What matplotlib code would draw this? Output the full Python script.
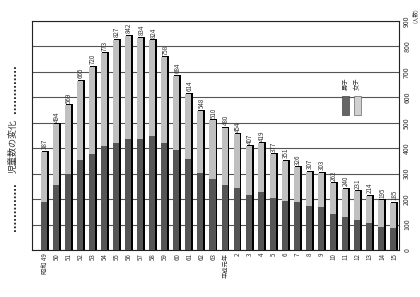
import numpy as np
import matplotlib
matplotlib.use("Agg")
import matplotlib.pyplot as plt
from matplotlib.patches import Rectangle

plt.rcParams['font.family'] = ['Noto Sans CJK JP', 'DejaVu Sans']

categories = ['昭和 49', '50', '51', '52', '53', '54', '55', '56', '57', '58',
              '59', '60', '61', '62', '63', '平成元年', '2', '3', '4', '5',
              '6', '7', '8', '9', '10', '11', '12', '13', '14', '15']
totals = [387, 494, 569, 665, 720, 773, 827, 842, 834, 824,
          758, 684, 614, 548, 510, 480, 454, 407, 419, 377,
          351, 326, 307, 303, 262, 240, 231, 214, 195, 185]
boys = [188, 254, 300, 352, 377, 407, 419, 435, 435, 447,
        421, 392, 356, 303, 279, 254, 244, 217, 226, 205,
        194, 187, 171, 170, 142, 130, 119, 108, 91, 87]
yticks = [0, 100, 200, 300, 400, 500, 600, 700, 800, 900]

totals_a = np.array(totals)
boys_a = np.array(boys)
girls_a = totals_a - boys_a

dark = '#555555'
light = '#c0c0c0'
txt = '#333333'

fig = plt.figure(figsize=(4.2, 2.97), dpi=100)
ax = fig.add_axes([32/420, 1-250/297, 367/420, 229/297])

x = np.arange(len(categories))
# shadow
ax.bar(x - 0.25, totals_a + 4, width=0.58, align='edge', color='black', zorder=2)
ax.bar(x - 0.33, boys_a, width=0.5, align='edge', color=dark, zorder=3)
ax.bar(x - 0.33, girls_a, bottom=boys_a, width=0.5, align='edge', color=light, zorder=3)

for xi, t in zip(x, totals_a):
    ax.text(xi, t + 10, str(t), rotation=90, ha='center', va='bottom',
            fontsize=4.5, color=txt)

ax.set_xlim(-1.08, 29.42)
ax.set_ylim(0, 900)
ax.set_xticks(x)
ax.set_xticklabels(categories, rotation=90, fontsize=4.5, color=txt)
ax.tick_params(axis='x', length=0, pad=2)
ax.yaxis.tick_right()
ax.set_yticks(yticks)
ax.set_yticklabels([str(v) for v in yticks], rotation=90, va='center',
                   fontsize=5, color=txt)
ax.tick_params(axis='y', length=0, pad=3)
ax.grid(axis='y', color='#555555', linewidth=0.8, zorder=1)
ax.set_axisbelow(True)
for s in ax.spines.values():
    s.set_color('#222222')
    s.set_linewidth(0.8)

# legend
ax.add_patch(Rectangle((0.845, 0.59), 0.019, 0.083, transform=ax.transAxes,
                       facecolor='#666666', edgecolor='#444444', lw=0.5, zorder=5))
ax.add_patch(Rectangle((0.877, 0.59), 0.019, 0.083, transform=ax.transAxes,
                       facecolor='#d0d0d0', edgecolor='#666666', lw=0.5, zorder=5))
ax.text(0.8545, 0.70, '男子', transform=ax.transAxes, rotation=90,
        ha='center', va='bottom', fontsize=4.5, color=txt)
ax.text(0.8865, 0.70, '女子', transform=ax.transAxes, rotation=90,
        ha='center', va='bottom', fontsize=4.5, color=txt)

# unit
fig.text(415/420, 1-16/297, '(人数)', rotation=90, ha='center', va='center',
         fontsize=4, color=txt)

# title
fig.text(13/420, 1-146/297, '児童数の変化', rotation=90, ha='center', va='center',
         fontsize=6.5, color=txt)
fig.text(13/420, 1-89/297, '.' * 13, rotation=90, ha='center', va='center',
         fontsize=7, fontweight='bold', color=txt, family='DejaVu Sans')
fig.text(13/420, 1-207/297, '.' * 13, rotation=90, ha='center', va='center',
         fontsize=7, fontweight='bold', color=txt, family='DejaVu Sans')

fig.savefig('out.png', dpi=100, facecolor='white')
